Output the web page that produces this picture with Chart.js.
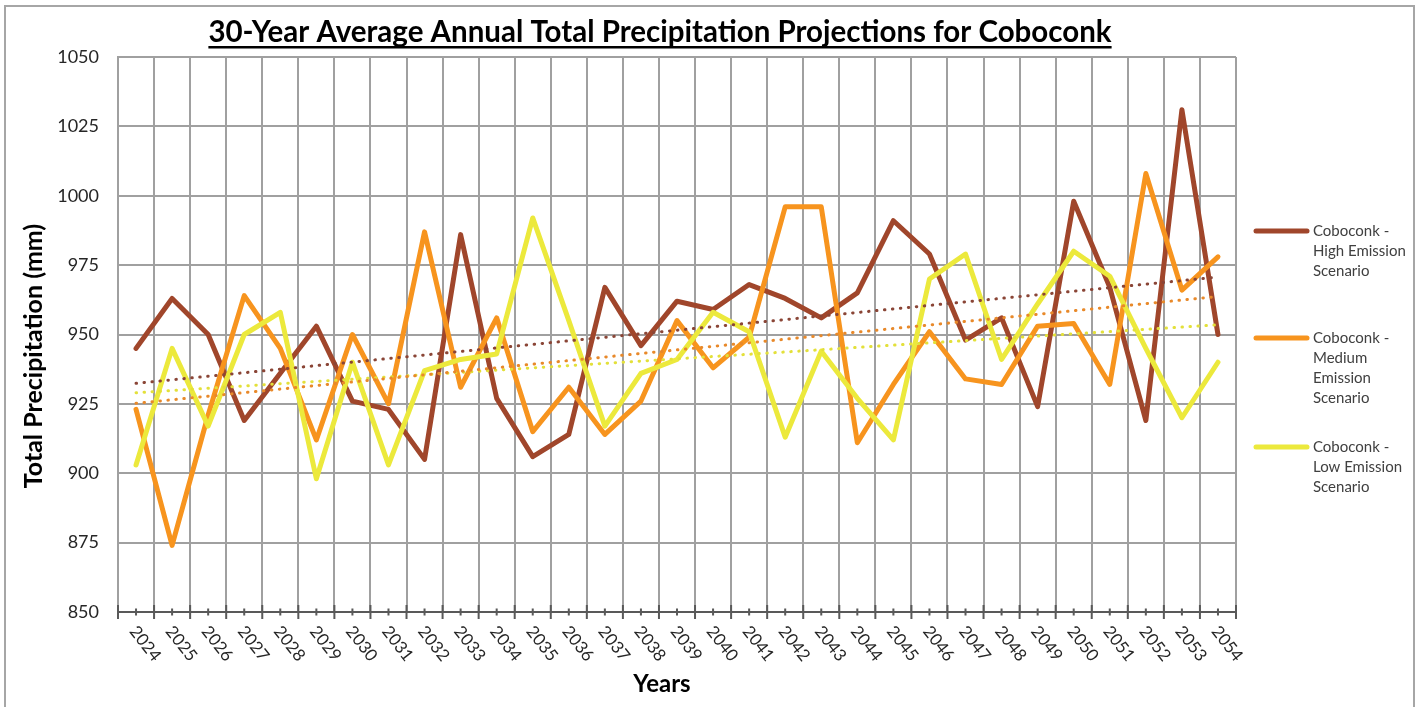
<!DOCTYPE html>
<html>
<head>
<meta charset="utf-8">
<title>Coboconk precipitation projections</title>
<script src="https://cdn.jsdelivr.net/npm/chart.js@4.4.1/dist/chart.umd.min.js"></script>
<style>
  body { margin: 0; background: #fff; }
  #wrap { width: 1424px; height: 707px; position: relative; }
</style>
</head>
<body>
<div id="wrap"><canvas id="precipChart"></canvas></div>
<script>
const chartTitle = '30-Year Average Annual Total Precipitation Projections for Coboconk';
const years = ['2024', '2025', '2026', '2027', '2028', '2029', '2030', '2031', '2032', '2033',
    '2034', '2035', '2036', '2037', '2038', '2039', '2040', '2041', '2042', '2043',
    '2044', '2045', '2046', '2047', '2048', '2049', '2050', '2051', '2052', '2053', '2054'];

const highEmission = [945, 963, 950, 919, 936, 953, 926, 923, 905, 986, 927, 906, 914, 967, 946, 962,
    959, 968, 963, 956, 965, 991, 979, 948, 956, 924, 998, 967, 919, 1031, 950];
const mediumEmission = [923, 874, 921, 964, 945, 912, 950, 925, 987, 931, 956, 915, 931, 914, 926, 955,
    938, 949, 996, 996, 911, 932, 951, 934, 932, 953, 954, 932, 1008, 966, 978];
const lowEmission = [903, 945, 917, 950, 958, 898, 940, 903, 937, 941, 943, 992, 955, 917, 936, 941,
    958, 951, 913, 944, 927, 912, 970, 979, 941, 961, 980, 971, 945, 920, 940];

// dotted linear trend lines, value at 2024 and at 2054
const highTrend = [932.4, 970.7];
const mediumTrend = [925.2, 963.7];
const lowTrend = [929.0, 953.5];

const yMin = 850, yMax = 1050, yStep = 25;

const colors = { high: '#a0462b', medium: '#f7941e', low: '#ece93c' };

const legendItems = [
    { lines: ['Coboconk -', 'High Emission', 'Scenario'], color: colors.high, y: 231 },
    { lines: ['Coboconk -', 'Medium', 'Emission', 'Scenario'], color: colors.medium, y: 338 },
    { lines: ['Coboconk -', 'Low Emission', 'Scenario'], color: colors.low, y: 447 }
];

const trendData = t => [{ x: years[0], y: t[0] }, { x: years[years.length - 1], y: t[1] }];

const decorations = {
    id: 'decorations',
    afterDraw(chart) {
        const { ctx, chartArea } = chart;
        const x = chart.scales.x;
        const bottom = chartArea.bottom;
        ctx.save();

        // frame round the whole picture
        ctx.strokeStyle = '#a6a6a6';
        ctx.lineWidth = 2;
        ctx.strokeRect(5, 6, 1409, 720);

        // title, underlined
        ctx.fillStyle = '#000';
        ctx.font = 'bold 29.5px Lato';
        ctx.textAlign = 'center';
        ctx.textBaseline = 'alphabetic';
        ctx.fillText(chartTitle, 660, 42);
        const tw = ctx.measureText(chartTitle).width;
        ctx.fillRect(660 - tw / 2, 46, tw, 2.5);

        // tick marks on the x axis
        const half = (x.getPixelForValue(1) - x.getPixelForValue(0)) / 2;
        ctx.strokeStyle = '#595959';
        ctx.lineWidth = 2;
        years.forEach((yr, i) => {
            const px = x.getPixelForValue(i);
            ctx.beginPath();
            ctx.moveTo(px, bottom - 3.5);
            ctx.lineTo(px, bottom + 3.5);
            ctx.moveTo(px - half, bottom - 7);
            ctx.lineTo(px - half, bottom + 7);
            if (i === years.length - 1) {
                ctx.moveTo(px + half, bottom - 7);
                ctx.lineTo(px + half, bottom + 7);
            }
            ctx.stroke();
        });

        // rotated year labels
        ctx.fillStyle = '#262626';
        ctx.font = '17px Lato';
        ctx.textAlign = 'left';
        ctx.textBaseline = 'middle';
        years.forEach((yr, i) => {
            const px = x.getPixelForValue(i);
            ctx.save();
            ctx.translate(px - 3, bottom + 16);
            ctx.rotate(52 * Math.PI / 180);
            ctx.fillText(yr, 0, 0);
            ctx.restore();
        });

        // axis titles
        ctx.fillStyle = '#000';
        ctx.font = 'bold 24px Lato';
        ctx.textAlign = 'center';
        ctx.textBaseline = 'alphabetic';
        ctx.fillText('Years', 662, 692);
        ctx.save();
        ctx.translate(34, 356);
        ctx.rotate(-Math.PI / 2);
        ctx.textBaseline = 'middle';
        ctx.font = 'bold 25px Lato';
        ctx.fillText('Total Precipitation (mm)', 0, 0);
        ctx.restore();

        // legend
        ctx.font = '15px Lato';
        ctx.textAlign = 'left';
        ctx.textBaseline = 'middle';
        legendItems.forEach(item => {
            ctx.strokeStyle = item.color;
            ctx.lineWidth = 5;
            ctx.lineCap = 'round';
            ctx.beginPath();
            ctx.moveTo(1256, item.y);
            ctx.lineTo(1307, item.y);
            ctx.stroke();
            ctx.fillStyle = '#404040';
            item.lines.forEach((line, k) => ctx.fillText(line, 1313, item.y + k * 20));
        });
        ctx.restore();
    }
};

const lineStyle = color => ({
    borderColor: color,
    backgroundColor: color,
    borderWidth: 5,
    pointRadius: 0,
    borderJoinStyle: 'round',
    borderCapStyle: 'round',
    tension: 0
});

const trendStyle = color => ({
    borderColor: color,
    borderWidth: 3,
    pointRadius: 0,
    borderDash: [0.5, 7.5],
    borderCapStyle: 'round'
});

new Chart(document.getElementById('precipChart'), {
    type: 'line',
    data: {
        labels: years,
        datasets: [
            { label: 'Coboconk - High Emission Scenario', data: highEmission, order: 3, ...lineStyle(colors.high) },
            { label: 'Coboconk - Medium Emission Scenario', data: mediumEmission, order: 2, ...lineStyle(colors.medium) },
            { label: 'Coboconk - Low Emission Scenario', data: lowEmission, order: 1, ...lineStyle(colors.low) },
            { label: 'High trend', data: trendData(highTrend), order: 0, ...trendStyle('#8a4536') },
            { label: 'Medium trend', data: trendData(mediumTrend), order: 0, ...trendStyle('#e8892a') },
            { label: 'Low trend', data: trendData(lowTrend), order: 0, ...trendStyle('#e3e03a') }
        ]
    },
    options: {
        responsive: true,
        maintainAspectRatio: false,
        animation: false,
        layout: { padding: { top: 57, right: 188, bottom: 0, left: 0 } },
        plugins: {
            legend: { display: false },
            tooltip: { enabled: false }
        },
        scales: {
            x: {
                offset: true,
                grid: { offset: true, color: '#a0a0a0', lineWidth: 2, drawTicks: false },
                border: { color: '#595959', width: 2 },
                ticks: { display: false },
                afterFit: scale => { scale.height = 95; }
            },
            y: {
                min: yMin,
                max: yMax,
                grid: { color: '#a0a0a0', lineWidth: 2, drawTicks: false },
                border: { color: '#a0a0a0', width: 2 },
                ticks: {
                    stepSize: yStep,
                    padding: 19,
                    color: '#262626',
                    font: { family: 'Lato', size: 18 },
                    callback: value => String(value)
                },
                afterFit: scale => { scale.width = 118; }
            }
        }
    },
    plugins: [decorations]
});
</script>
</body>
</html>
